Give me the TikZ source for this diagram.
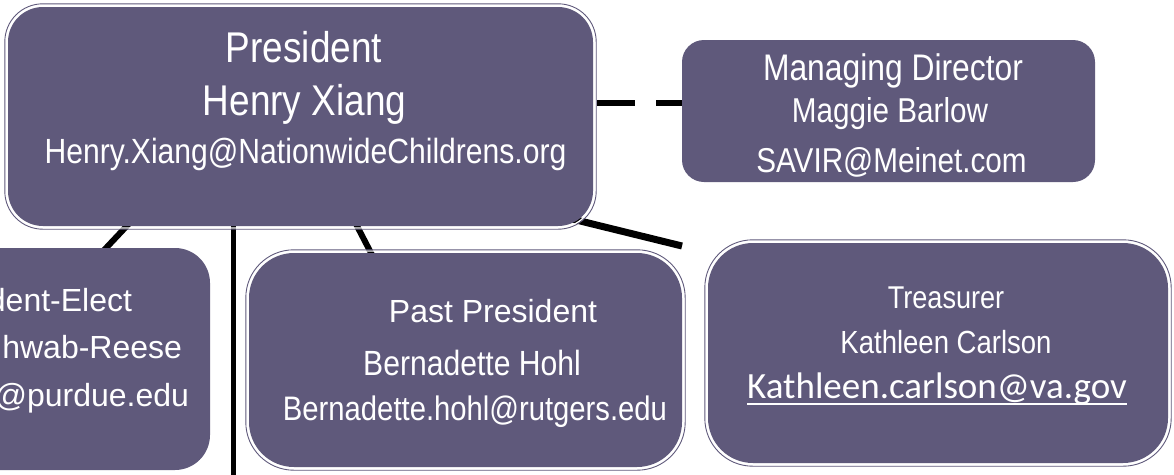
\documentclass[tikz,border=0pt]{standalone}
\usepackage{fontspec}
\usetikzlibrary{calc,backgrounds}
\newfontfamily\narfont[FakeStretch=0.86]{Liberation Sans}
\newfontfamily\regfont{Liberation Sans}
\newfontfamily\calfont{Carlito}
\definecolor{boxc}{RGB}{95,89,123}
\begin{document}
\begin{tikzpicture}[x=1pt,y=-1pt,
  box/.style={shape=rectangle, fill=boxc, inner sep=0pt, outer sep=0pt},
  txt/.style={text=white, inner sep=0pt, outer sep=0pt, anchor=base},
  link/.style={line width=6pt, draw=black, shorten <=-3pt, shorten >=-3pt},
  ringw/.style={draw=white, line width=1.4pt},
  ringp/.style={draw=boxc, line width=0.9pt},
]
\useasboundingbox (0,0) rectangle (1174,474);

% boxes
\node[box, minimum width=585pt, minimum height=219pt, rounded corners=35pt] (pres) at (300.5,116.5) {};
\node[box, minimum width=413pt, minimum height=142pt, rounded corners=22pt] (md) at (888.5,111) {};
\node[box, minimum width=270pt, minimum height=222pt, rounded corners=35pt] (elect) at (75,359) {};
\node[box, minimum width=433pt, minimum height=214pt, rounded corners=45pt] (past) at (465.5,360) {};
\node[box, minimum width=460pt, minimum height=220pt, rounded corners=45pt] (treas) at (938,353) {};

% frames
\draw[ringw, rounded corners=37pt] ([shift={(-2pt,2pt)}]pres.north west) rectangle ([shift={(2pt,-2pt)}]pres.south east);
\draw[ringp, rounded corners=38pt] ([shift={(-3.2pt,3.2pt)}]pres.north west) rectangle ([shift={(3.2pt,-3.2pt)}]pres.south east);
\draw[ringw, rounded corners=47pt] ([shift={(-2pt,2pt)}]past.north west) rectangle ([shift={(2pt,-2pt)}]past.south east);
\draw[ringp, rounded corners=48pt] ([shift={(-3.2pt,3.2pt)}]past.north west) rectangle ([shift={(3.2pt,-3.2pt)}]past.south east);
\draw[ringw, rounded corners=47pt] ([shift={(-2pt,2pt)}]treas.north west) rectangle ([shift={(2pt,-2pt)}]treas.south east);
\draw[ringp, rounded corners=48pt] ([shift={(-3.2pt,3.2pt)}]treas.north west) rectangle ([shift={(3.2pt,-3.2pt)}]treas.south east);

% connectors
\coordinate (vend) at (233,480);
\coordinate (tend) at (682,246);
\begin{scope}[on background layer]
\draw[link] ($(pres.south west)!0.203!(pres.south east)$) -- ($(elect.north west)!0.615!(elect.north east)$);
\draw[link, line width=5pt, shorten <=0pt, shorten >=0pt] (vend |- pres.south) -- (vend);
\draw[link] ($(pres.south west)!0.5966!(pres.south east)$) -- ($(past.north west)!0.2818!(past.north east)$);
\draw[link, line width=7pt, shorten >=0pt] ($(pres.south east)+(-25pt,8pt)$) -- (tend);
\end{scope}
\draw[line width=6pt, dash pattern=on 38pt off 21pt] ($(pres.east)+(4pt,13.5pt)$) coordinate (d0) -- (d0 -| md.west);

% President
\node[txt, font=\narfont\fontsize{43}{43}\selectfont] (p1) at (304,62) {President};
\node[txt, font=\narfont\fontsize{43}{43}\selectfont] (p2) at (304.5,115) {Henry Xiang};
\node[txt, font=\narfont\fontsize{35}{35}\selectfont] (p3) at (305.5,163) {Henry.Xiang@NationwideChildrens.org};

% Managing Director
\node[txt, font=\narfont\fontsize{37}{37}\selectfont] (m1) at (893,80) {Managing Director};
\node[txt, font=\narfont\fontsize{34.5}{34.5}\selectfont] (m2) at (890,122) {Maggie Barlow};
\node[txt, font=\narfont\fontsize{34.5}{34.5}\selectfont] (m3) at (891.5,172) {SAVIR@Meinet.com};

% President-Elect (cut off at the left edge)
\node[txt, anchor=base east, font=\regfont\fontsize{32}{32}\selectfont] (e1) at (132,311) {dent-Elect};
\node[txt, anchor=base east, font=\regfont\fontsize{32}{32}\selectfont] (e2) at (182,358) {hwab-Reese};
\node[txt, anchor=base east, font=\regfont\fontsize{32}{32}\selectfont] (e3) at (189,406) {@purdue.edu};

% Past President
\node[txt, font=\regfont\fontsize{32}{32}\selectfont] (pp1) at (493,322) {Past President};
\node[txt, font=\narfont\fontsize{35}{35}\selectfont] (pp2) at (472,375) {Bernadette Hohl};
\node[txt, font=\narfont\fontsize{34}{34}\selectfont] (pp3) at (475,420) {Bernadette.hohl@rutgers.edu};

% Treasurer
\node[txt, font=\narfont\fontsize{31.5}{31.5}\selectfont] (t1) at (946,308) {Treasurer};
\node[txt, font=\narfont\fontsize{32}{32}\selectfont] (t2) at (946,353) {Kathleen Carlson};
\node[txt, font=\calfont\fontsize{37}{37}\selectfont] (t3) at (937,398) {Kathleen.carlson@va.gov};
\draw[white, line width=2pt] ($(t3.base west)+(0,-5.5pt)$) -- ($(t3.base east)+(0,-5.5pt)$);
\end{tikzpicture}
\end{document}
